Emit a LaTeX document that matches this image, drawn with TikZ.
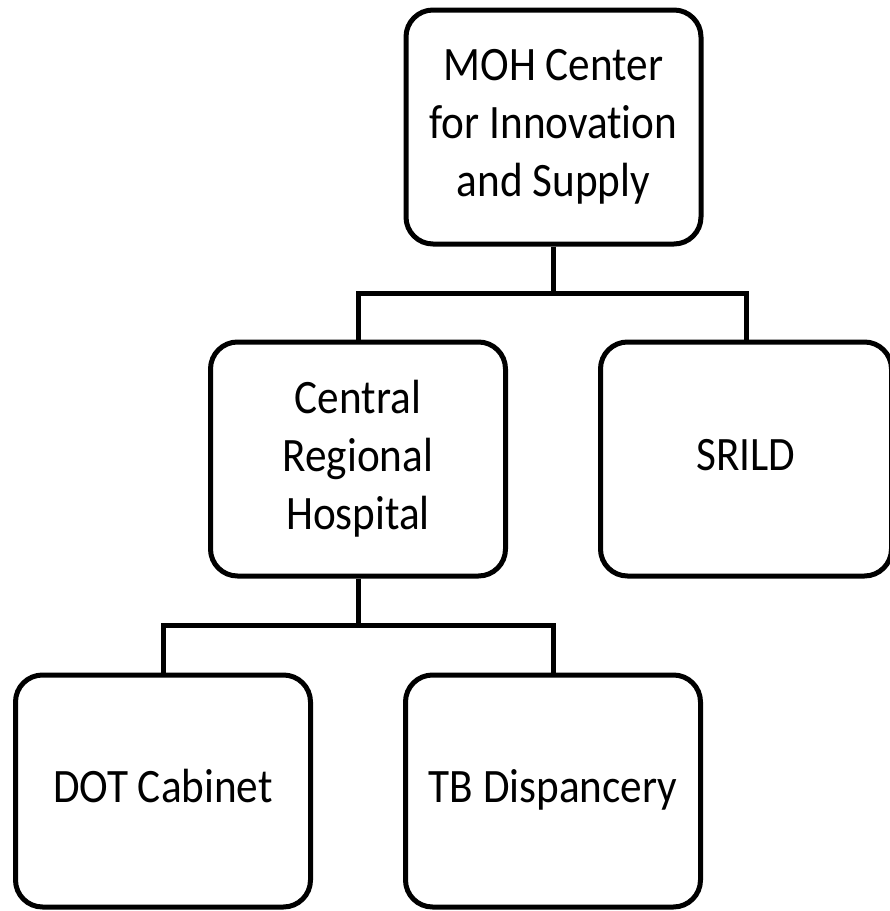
\documentclass[tikz,border=0pt]{standalone}
\usepackage{fontspec}
\setmainfont{Carlito}[FakeStretch=0.9, Ligatures=NoCommon]
\begin{document}
\begin{tikzpicture}[x=1pt,y=-1pt,
  box/.style={draw=black, line width=5pt, rounded corners=27pt, fill=white,
    align=center, inner sep=0pt, font=\fontsize{48}{58}\selectfont},
  conn/.style={draw=black, line width=5pt}]
\useasboundingbox (0,0) rectangle (890,911);
\node[box, minimum width=295pt, minimum height=234pt] (moh) at (553.5,127) {MOH Center\\for Innovation\\and Supply};
\node[box, minimum width=295pt, minimum height=234pt] (crh) at (358,459) {Central\\Regional\\Hospital};
\node[box, minimum width=291pt, minimum height=234pt] (srild) at (746,459) {\strut SRILD};
\node[box, minimum width=295pt, minimum height=232pt] (dot) at (163,791) {\strut DOT Cabinet};
\node[box, minimum width=295pt, minimum height=232pt] (tb) at (553,791) {\strut TB Dispancery};
\coordinate (j1) at (553.5,293);
\coordinate (j2) at (358,625);
\draw[conn] (moh.south) -- (j1);
\draw[conn] (crh.north) |- (j1) -| (srild.north);
\draw[conn] (crh.south) -- (j2);
\draw[conn] (dot.north) |- (j2) -| (tb.north);
\end{tikzpicture}
\end{document}
